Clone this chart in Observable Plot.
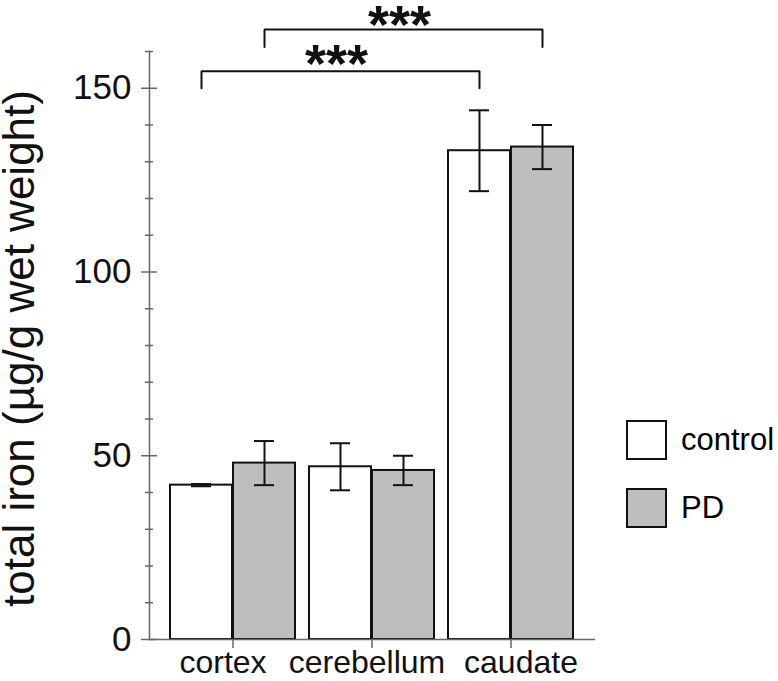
<!DOCTYPE html>
<html>
<head>
<meta charset="utf-8">
<script src="https://cdn.jsdelivr.net/npm/d3@7"></script>
<script src="https://cdn.jsdelivr.net/npm/@observablehq/plot@0.6"></script>
<style>
  html, body { margin: 0; padding: 0; background: #fff; }
  #wrap { position: relative; width: 778px; height: 681px; font-family: "Liberation Sans", Arial, Helvetica, sans-serif; }
  #legend { position: absolute; left: 626px; top: 420px; font-size: 31px; color: #000; }
  .item { display: flex; align-items: center; height: 40px; margin-bottom: 28px; }
  .swatch { box-sizing: border-box; width: 41px; height: 40px; border: 2px solid #111; margin-right: 14px; }
</style>
</head>
<body>
<div id="wrap"></div>
<script>
// ---- data ----
const regions = ["cortex", "cerebellum", "caudate"];
const groups = ["control", "PD"];
const groupColors = ["#ffffff", "#bebebe"];
const controlMean = [42, 47, 133];
const controlSE = [0.3, 6.4, 11];
const pdMean = [48, 46, 134];
const pdSE = [6, 4, 6];
const yMajorTicks = [0, 50, 100, 150];
const yMinorTicks = [10, 20, 30, 40, 60, 70, 80, 90, 110, 120, 130, 140, 160];
const yLabel = "total iron (µg/g wet weight)";

// significance brackets
const bracketGroup = ["control", "PD"];
const bracketFrom = ["cortex", "cortex"];
const bracketTo = ["caudate", "caudate"];
const bracketBase = [150, 161.2];
const bracketTop = [154.6, 166];
const bracketStarY = [162.1, 172.8];
const bracketLabel = ["***", "***"];

// ---- tables ----
const controlRows = regions.map((r, i) => ({region: r, mean: controlMean[i], lo: controlMean[i] - controlSE[i], hi: controlMean[i] + controlSE[i]}));
const pdRows = regions.map((r, i) => ({region: r, mean: pdMean[i], lo: pdMean[i] - pdSE[i], hi: pdMean[i] + pdSE[i]}));

// ---- styling constants ----
const half = 63;      // one bar width in px (half a band)
const capIn = 21;     // cap inset
const labelNudge = [-10, -5, 10]; // horizontal nudge of category labels (px)

const bracketMarks = bracketGroup.map((g, i) => {
  const dx = g === "control" ? -half / 2 : half / 2;
  const pts = [
    {x: bracketFrom[i], y: bracketBase[i]},
    {x: bracketFrom[i], y: bracketTop[i]},
    {x: bracketTo[i], y: bracketTop[i]},
    {x: bracketTo[i], y: bracketBase[i]}
  ];
  const mid = regions[Math.round((regions.indexOf(bracketFrom[i]) + regions.indexOf(bracketTo[i])) / 2)];
  return [
    Plot.line(pts, {x: "x", y: "y", dx, stroke: "#111", strokeWidth: 2, strokeLinejoin: "miter"}),
    Plot.text([bracketLabel[i]], {x: () => mid, y: () => bracketStarY[i], text: d => d, dx: dx - 4, lineAnchor: "top", textAnchor: "middle", fontSize: 54, fontWeight: "bold", fill: "#111"})
  ];
}).flat();

const xLabelMarks = regions.map((r, i) =>
  Plot.text([r], {x: d => d, text: d => d, frameAnchor: "bottom", lineAnchor: "top", dy: 11, dx: labelNudge[i], fontSize: 32, fill: "#111"})
);

const chart = Plot.plot({
  width: 778,
  height: 681,
  marginTop: 51,
  marginRight: 183,
  marginBottom: 42,
  marginLeft: 149,
  style: {fontFamily: "'Liberation Sans', Arial, Helvetica, sans-serif", background: "#fff", overflow: "visible"},
  x: {domain: regions, paddingInner: 0.1, paddingOuter: 0.143, axis: null},
  y: {domain: [0, 160], axis: null},
  marks: [
    Plot.barY(controlRows, {x: "region", y: "mean", insetRight: half, fill: groupColors[0], stroke: "#111", strokeWidth: 2}),
    Plot.barY(pdRows, {x: "region", y: "mean", insetLeft: half, fill: groupColors[1], stroke: "#111", strokeWidth: 2}),
    // error bars
    Plot.ruleX(controlRows, {x: "region", y1: "lo", y2: "hi", dx: -half / 2, stroke: "#111", strokeWidth: 2}),
    Plot.tickY(controlRows, {x: "region", y: "lo", insetLeft: capIn, insetRight: 2 * half - 2 * capIn, stroke: "#111", strokeWidth: 2}),
    Plot.tickY(controlRows, {x: "region", y: "hi", insetLeft: capIn, insetRight: 2 * half - 2 * capIn, stroke: "#111", strokeWidth: 2}),
    Plot.ruleX(pdRows, {x: "region", y1: "lo", y2: "hi", dx: half / 2, stroke: "#111", strokeWidth: 2}),
    Plot.tickY(pdRows, {x: "region", y: "lo", insetLeft: 2 * half - 2 * capIn, insetRight: capIn, stroke: "#111", strokeWidth: 2}),
    Plot.tickY(pdRows, {x: "region", y: "hi", insetLeft: 2 * half - 2 * capIn, insetRight: capIn, stroke: "#111", strokeWidth: 2}),
    // axes
    Plot.ruleY([0], {stroke: "#666", strokeWidth: 1.5}),
    Plot.frame({anchor: "left", stroke: "#666", strokeWidth: 1.5}),
    Plot.axisY({ticks: yMinorTicks, tickSize: 8, dx: 4, tickFormat: () => "", stroke: "#666", strokeWidth: 1.5}),
    Plot.axisY({ticks: yMajorTicks, tickSize: 16, dx: 8, tickPadding: 10, fontSize: 35, stroke: "#666", strokeWidth: 1.5, fill: "#111", label: null}),
    Plot.axisX({tickSize: 9, tickFormat: () => "", stroke: "#666", strokeWidth: 1.5, label: null}),
    ...xLabelMarks,
    Plot.text([yLabel], {frameAnchor: "left", rotate: -90, dx: -130, dy: 3, textAnchor: "middle", lineAnchor: "middle", fontSize: 44, fill: "#111"}),
    ...bracketMarks
  ]
});

const wrap = document.getElementById("wrap");
wrap.appendChild(chart);

// legend
const legend = document.createElement("div");
legend.id = "legend";
groups.forEach((g, i) => {
  const item = document.createElement("div");
  item.className = "item";
  const sw = document.createElement("div");
  sw.className = "swatch";
  sw.style.background = groupColors[i];
  const lab = document.createElement("span");
  lab.textContent = g;
  item.appendChild(sw);
  item.appendChild(lab);
  legend.appendChild(item);
});
wrap.appendChild(legend);
</script>
</body>
</html>
